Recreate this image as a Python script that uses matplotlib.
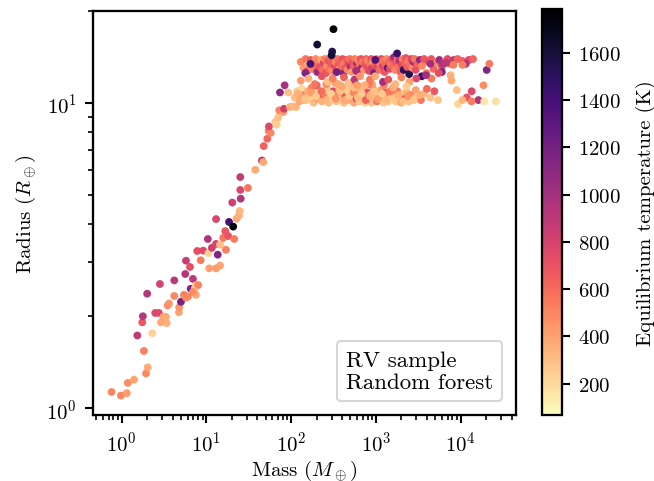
import matplotlib
matplotlib.use('Agg')
import matplotlib.pyplot as plt
from matplotlib.lines import Line2D
from matplotlib.ticker import NullFormatter

plt.rcParams['font.family'] = 'serif'
plt.rcParams['font.serif'] = ['cmr10']
plt.rcParams['mathtext.fontset'] = 'cm'
plt.rcParams['axes.formatter.use_mathtext'] = True
plt.rcParams['font.size'] = 10
plt.rcParams['axes.linewidth'] = 1.1

# rising branch (small planets up to the plateau)
mass_rise = [0.76, 0.98, 1.15, 1.18, 1.40, 1.94, 2.03, 1.83, 1.53, 2.30,
             1.75, 1.78, 2.00, 2.83, 2.49, 2.75, 2.91, 3.10, 3.40, 3.33,
             3.49, 3.61, 4.18, 4.74, 4.78, 4.18, 5.01, 5.44, 5.74, 6.06,
             5.74, 5.63, 6.40, 6.94, 6.52, 7.33, 7.53, 8.01, 7.53, 6.94,
             7.80, 9.18, 8.55, 10.4, 10.6, 10.8, 11.6, 13.0, 13.0, 13.6,
             13.0, 14.5, 14.5, 15.8, 16.7, 17.0, 18.1, 18.5, 20.7, 21.3,
             20.2, 22.7, 24.2, 24.7, 25.1, 25.4, 25.1, 30.9, 37.7, 45.2,
             46.9, 47.4, 52.3, 54.3, 57.3, 54.7, 64.9, 67.4, 70.4, 72.4,
             80.7, 82.3, 96.8, 106, 114, 127, 139, 73.8, 83.8, 92.4]
radius_rise = [1.13, 1.10, 1.12, 1.21, 1.24, 1.30, 1.36, 1.54, 1.73, 1.76,
               1.91, 2.00, 2.37, 2.55, 2.05, 2.05, 1.91, 1.99, 1.90, 1.99,
               2.17, 2.20, 2.33, 2.06, 2.14, 2.62, 2.23, 2.35, 2.30, 2.32,
               3.04, 2.75, 2.90, 2.65, 2.46, 2.47, 2.52, 2.53, 2.35, 2.40,
               3.27, 3.28, 3.05, 3.58, 3.22, 2.87, 3.35, 3.45, 4.16, 3.18,
               2.87, 2.93, 3.43, 3.61, 3.80, 3.30, 3.66, 4.07, 3.93, 3.58,
               4.71, 4.17, 4.27, 4.42, 5.18, 4.85, 5.71, 5.26, 6.03, 6.47,
               6.39, 7.21, 7.62, 8.08, 7.96, 8.36, 8.64, 8.47, 8.93, 9.44,
               9.32, 9.55, 9.68, 9.72, 9.68, 10.2, 10.2, 10.8, 11.4, 10.8]
teq_rise = [500, 500, 420, 480, 400, 500, 380, 520, 880, 230,
            680, 920, 930, 800, 760, 760, 380, 400, 360, 380,
            480, 450, 500, 400, 450, 900, 1200, 520, 480, 500,
            850, 920, 720, 900, 1150, 250, 280, 520, 380, 480,
            720, 760, 540, 950, 240, 400, 820, 780, 760, 1150,
            420, 400, 300, 560, 680, 520, 700, 1400, 1780, 540,
            820, 380, 350, 330, 760, 950, 860, 560, 380, 900,
            380, 640, 620, 540, 500, 760, 280, 230, 300, 520,
            420, 820, 350, 320, 330, 520, 350, 1100, 980, 300]

# upper plateau band
mass_upper = [130, 140, 148, 155, 162, 170, 178, 186, 195, 203,
              210, 218, 226, 234, 242, 250, 258, 266, 274, 282,
              290, 298, 306, 315, 324, 333, 342, 352, 362, 372,
              382, 393, 404, 415, 427, 439, 451, 464, 477, 490,
              504, 518, 533, 548, 563, 579, 595, 612, 629, 647,
              665, 684, 703, 723, 743, 764, 786, 808, 831, 854,
              878, 903, 929, 955, 982, 1010, 1040, 1070, 1100, 1130,
              1160, 1200, 1230, 1270, 1300, 1340, 1380, 1420, 1460, 1500,
              1550, 1590, 1640, 1690, 1740, 1790, 1840, 1900, 1950, 2010,
              2070, 2130, 2190, 2260, 2330, 2400, 2470, 2540, 2620, 2700,
              2780, 2860, 2950, 3100, 3300, 3500, 3700, 3950, 4200, 4500,
              4800, 5200, 5600, 6000, 6500, 7000, 7600, 8300, 9200, 10500,
              12500, 14000]
radius_upper = [13.6, 13.0, 13.9, 12.7, 13.4, 13.8, 12.9, 13.3, 13.9, 12.6,
                13.6, 13.1, 13.8, 12.8, 13.5, 13.9, 12.5, 13.2, 13.7, 12.9,
                14.0, 13.4, 12.7, 13.9, 13.2, 13.6, 12.6, 13.9, 13.3, 12.9,
                13.7, 13.1, 13.9, 12.5, 13.5, 13.0, 13.8, 12.8, 13.4, 13.9,
                13.1, 12.6, 13.6, 13.2, 13.9, 12.9, 13.5, 13.8, 12.6, 13.3,
                13.9, 13.0, 13.6, 12.8, 13.4, 13.9, 13.1, 13.7, 12.7, 13.4,
                13.9, 13.0, 13.6, 12.5, 13.3, 13.9, 13.1, 13.6, 12.8, 13.4,
                13.9, 13.2, 13.7, 12.6, 13.4, 13.9, 13.0, 13.6, 12.9, 13.4,
                13.9, 13.2, 14.1, 12.8, 13.5, 13.9, 13.1, 13.7, 12.6, 13.3,
                13.9, 12.8, 13.5, 14.0, 13.1, 13.7, 12.4, 13.3, 13.9, 13.0,
                13.6, 13.9, 12.8, 13.4, 13.8, 13.2, 13.9, 12.5, 13.6, 13.9,
                12.9, 13.5, 13.8, 13.1, 13.6, 13.9, 13.4, 13.8, 13.9, 13.7,
                13.8, 13.9]
teq_upper = [500, 430, 560, 700, 380, 650, 520, 620, 470, 1050,
             540, 700, 400, 600, 760, 520, 680, 450, 700, 560,
             620, 650, 480, 720, 750, 500, 780, 560, 680, 420,
             620, 600, 700, 1150, 520, 680, 640, 500, 760, 580,
             950, 430, 720, 640, 540, 660, 1000, 500, 780, 600,
             700, 1100, 540, 460, 660, 620, 720, 500, 740, 560,
             680, 800, 420, 1200, 640, 540, 760, 680, 600, 500,
             720, 760, 560, 680, 620, 500, 1300, 620, 740, 540,
             680, 600, 1050, 500, 700, 620, 560, 940, 640, 760,
             520, 1500, 620, 700, 660, 540, 1550, 600, 760, 480,
             1000, 560, 720, 640, 1100, 500, 680, 540, 760, 680,
             620, 500, 1050, 680, 560, 740, 640, 900, 620, 640,
             760, 620]

# lower plateau band
mass_lower = [110, 118, 125, 133, 141, 150, 158, 166, 175, 184,
              193, 202, 212, 222, 232, 243, 254, 265, 277, 289,
              302, 315, 328, 342, 356, 371, 386, 402, 418, 435,
              452, 470, 489, 508, 528, 549, 570, 592, 615, 639,
              664, 690, 716, 743, 771, 800, 830, 861, 893, 926,
              960, 995, 1030, 1070, 1110, 1150, 1190, 1240, 1290, 1340,
              1390, 1450, 1510, 1580, 1650, 1720, 1800, 1890, 1980, 2080,
              2200, 2320, 2450, 2600, 2750, 2950, 3150, 3400, 3700, 4000,
              4400, 4900, 5400,
              120, 145, 170, 198, 228, 260, 295, 335, 380, 430,
              485, 545, 610, 680, 760, 850, 950, 1060, 1180, 1320,
              1470, 1640, 1850, 2100, 2400, 2800, 3300,
              260, 400, 520, 700, 900, 1250, 1600, 200, 330, 560, 820]
radius_lower = [10.4, 10.9, 10.1, 11.1, 10.6, 10.2, 10.9, 10.5, 11.2, 10.0,
                10.7, 10.3, 11.0, 10.5, 10.1, 10.8, 10.4, 11.2, 10.0, 10.6,
                10.3, 10.9, 10.5, 10.1, 10.7, 11.1, 10.3, 10.8, 10.0, 10.5,
                11.0, 10.2, 10.7, 10.4, 11.2, 10.0, 10.6, 10.3, 10.9, 10.1,
                10.6, 10.3, 11.0, 10.0, 10.5, 10.8, 10.2, 10.6, 10.0, 11.1,
                10.4, 10.8, 10.1, 10.6, 10.3, 11.0, 10.5, 10.0, 10.8, 10.4,
                10.1, 10.7, 10.3, 11.2, 10.5, 10.1, 10.9, 10.4, 10.0, 10.7,
                10.3, 10.8, 10.1, 10.6, 10.3, 11.0, 10.5, 10.2, 10.7, 11.1,
                10.4, 10.9, 10.2,
                10.7, 10.3, 10.8, 10.5, 10.9, 10.2, 10.7, 10.3, 10.9, 10.2,
                10.5, 10.8, 10.4, 10.7, 10.2, 10.5, 10.9, 10.3, 10.7, 10.2,
                10.9, 10.3, 10.6, 10.1, 10.5, 10.2, 10.6,
                11.5, 11.3, 11.6, 11.3, 11.5, 11.4, 11.2, 11.4, 11.6, 11.2, 11.5]
teq_lower = [300, 250, 380, 200, 450, 300, 350, 250, 520, 320,
             280, 400, 230, 700, 350, 300, 550, 270, 320, 400,
             230, 760, 350, 280, 500, 320, 250, 420, 300, 680,
             260, 350, 220, 480, 300, 380, 250, 800, 330, 270,
             420, 300, 520, 250, 340, 720, 280, 380, 300, 460,
             250, 350, 560, 300, 240, 400, 320, 270, 680, 350,
             300, 500, 250, 420, 330, 280, 560, 300, 380, 260,
             720, 340, 290, 500, 310, 400, 250, 560, 330, 600,
             300, 680, 280,
             350, 280, 420, 260, 600, 330, 240, 450, 300, 380,
             270, 500, 320, 260, 640, 350, 290, 420, 250, 330,
             560, 280, 360, 300, 460, 270, 350,
             500, 380, 760, 300, 420, 520, 350, 640, 400, 300, 560]

# hot outliers, the far-right tail and points between the two bands
mass_edge = [316, 203, 305, 300, 1780, 169, 982, 3470, 4400, 6080,
             6800, 11500, 586, 344, 147, 1211, 20300, 21800, 6000, 5500,
             4530, 3900, 7600, 7800, 9000, 18600, 13500, 16200, 19000, 26000,
             9300, 11800, 10500, 13400, 10500, 8200,
             130, 160, 190, 230, 270, 310, 360, 420, 480, 560,
             650, 740, 850, 980, 1400, 1700, 2000, 2500, 3000, 2300, 600]
radius_edge = [17.4, 15.5, 14.7, 14.3, 14.5, 13.4, 13.8, 12.2, 13.4, 13.4,
               13.5, 13.4, 12.7, 12.6, 12.5, 11.7, 12.8, 13.4, 12.6, 12.5,
               12.0, 12.3, 12.3, 11.8, 11.0, 11.4, 10.9, 10.2, 10.1, 10.1,
               9.9, 10.4, 10.2, 10.1, 13.3, 13.3,
               11.8, 12.0, 11.5, 12.2, 11.7, 12.0, 11.5, 12.1, 11.6, 11.9,
               12.2, 11.4, 11.9, 12.2, 11.9, 11.5, 12.1, 11.7, 12.0, 11.3, 11.4]
teq_edge = [1790, 1620, 1550, 1600, 1450, 1400, 1350, 1450, 1000, 950,
            900, 950, 1000, 1200, 1150, 1000, 1150, 550, 1150, 720,
            540, 1000, 350, 380, 300, 480, 760, 950, 150, 180,
            220, 700, 330, 540, 520, 540,
            420, 350, 560, 700, 300, 520, 380, 640, 300, 900,
            450, 350, 560, 380, 700, 330, 520, 400, 760, 250, 420]

mass = mass_rise + mass_lower + mass_upper + mass_edge
radius = radius_rise + radius_lower + radius_upper + radius_edge
teq = teq_rise + teq_lower + teq_upper + teq_edge

fig = plt.figure(figsize=(4.36, 3.2133), dpi=150)
ax = fig.add_axes([0.1417, 0.1369, 0.6473, 0.8388])
cax = fig.add_axes([0.8283, 0.1369, 0.0315, 0.8423])

sc = ax.scatter(mass, radius, c=teq, cmap='magma_r', vmin=67, vmax=1785,
                s=14, linewidths=0)
ax.set_xscale('log')
ax.set_yscale('log')
ax.set_xlim(0.455, 45000)
ax.set_ylim(0.95, 20.0)
ax.yaxis.set_minor_formatter(NullFormatter())
ax.set_xlabel(r'Mass ($M_\oplus$)', labelpad=1)
ax.set_ylabel(r'Radius ($R_\oplus$)')
ax.tick_params(which='major', length=4, width=1.0)
ax.tick_params(which='minor', length=2.2, width=0.8)

cb = fig.colorbar(sc, cax=cax)
cb.set_label('Equilibrium temperature (K)', labelpad=7)
cb.outline.set_linewidth(1.1)
cb.ax.tick_params(length=4, width=1.0)

blank = [Line2D([], [], linestyle='none'), Line2D([], [], linestyle='none')]
ax.legend(blank, ['RV sample', 'Random forest'], loc='lower right',
          handlelength=0, handletextpad=0, labelspacing=0.1,
          borderaxespad=0.6, fontsize=11)

fig.savefig('out.png', dpi=150)
